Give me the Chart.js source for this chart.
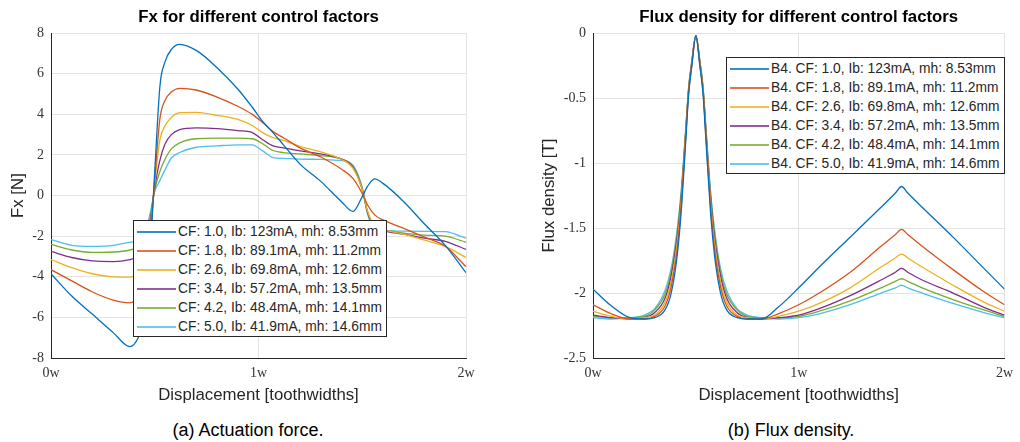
<!DOCTYPE html>
<html>
<head>
<meta charset="utf-8">
<script src="https://cdn.jsdelivr.net/npm/chart.js@4"></script>
<style>
body { margin: 0; width: 1020px; height: 442px; overflow: hidden; background: #fff; position: relative;
       font-family: "Liberation Sans", Arial, sans-serif; }
.wrap { position: absolute; top: 0; width: 510px; height: 410px; }
#wrapF { left: 0; }
#wrapB { left: 510px; }
.legend { position: absolute; background: #fff; border: 1px solid #262626; padding: 1px 4px 0 3px;
          font-size: 13.8px; color: #262626; z-index: 2; }
.row { position: relative; height: 19px; line-height: 19px; padding-left: 41px; white-space: nowrap; }
.swatch { position: absolute; left: 0; top: 9px; width: 39px; height: 2px; opacity: 0.8; }
.caption { position: absolute; top: 420px; font-size: 18px; color: #000; transform: translateX(-50%); white-space: nowrap; }
</style>
</head>
<body>
<div class="wrap" id="wrapF"><canvas id="fxChart"></canvas><div class="legend" id="legF" style="left:133px; top:220px;"></div></div>
<div class="wrap" id="wrapB"><canvas id="fluxChart"></canvas><div class="legend" id="legB" style="left:216px; top:57px;"></div></div>
<div class="caption" style="left:248px;">(a) Actuation force.</div>
<div class="caption" style="left:791px;">(b) Flux density.</div>
<script>
// displacement in toothwidths
const xForce = [0, 0.1, 0.2, 0.3, 0.38, 0.42, 0.45, 0.475, 0.5, 0.525, 0.55, 0.58, 0.62, 0.7, 0.8, 0.9,
                0.97, 1.02, 1.07, 1.12, 1.2, 1.3, 1.4, 1.455, 1.5, 1.525, 1.56, 1.6, 1.7, 1.8, 1.9, 2.0];

const fx10 = [-3.85, -4.95, -5.85, -6.75, -7.44, -7.0, -6.0, -3.3, 1.2, 5.4, 6.6, 7.2, 7.45, 7.15, 6.3, 5.25,
              4.35, 3.65, 3.1, 2.5, 1.55, 0.7, -0.3, -0.78, -0.05, 0.45, 0.82, 0.6, -0.3, -1.4, -2.45, -3.8];
const fx18 = [-3.65, -4.2, -4.75, -5.15, -5.28, -5.0, -4.4, -2.4, 0.8, 3.8, 4.7, 5.1, 5.28, 5.2, 4.85, 4.4,
              4.0, 3.6, 3.15, 2.85, 2.35, 1.9, 1.3, 0.85, 0.1, -0.45, -0.95, -1.2, -1.62, -2.05, -2.5, -3.5];
const fx26 = [-3.15, -3.55, -3.85, -4.0, -4.02, -3.8, -3.4, -1.9, 0.6, 2.75, 3.45, 3.85, 4.08, 4.1, 3.95, 3.75,
              3.45, 3.1, 2.85, 2.72, 2.42, 2.15, 1.78, 1.35, 0.3, -0.75, -1.5, -1.68, -1.9, -2.2, -2.5, -3.05];
const fx34 = [-2.75, -3.05, -3.22, -3.25, -3.15, -3.0, -2.7, -1.5, 0.4, 1.75, 2.55, 3.0, 3.25, 3.33, 3.3, 3.2,
              3.1, 2.75, 2.45, 2.35, 2.2, 2.05, 1.8, 1.4, 0.3, -0.8, -1.55, -1.72, -1.9, -2.1, -2.25, -2.65];
const fx42 = [-2.4, -2.68, -2.8, -2.78, -2.68, -2.55, -2.3, -1.25, 0.3, 1.2, 1.8, 2.3, 2.6, 2.8, 2.83, 2.83,
              2.8, 2.55, 2.22, 2.12, 2.05, 1.97, 1.8, 1.45, 0.35, -0.8, -1.58, -1.7, -1.85, -1.95, -2.0, -2.3];
const fx50 = [-2.17, -2.45, -2.5, -2.45, -2.3, -2.2, -1.9, -1.0, 0.2, 0.75, 1.28, 1.85, 2.12, 2.38, 2.45, 2.5,
              2.5, 2.2, 1.87, 1.83, 1.8, 1.78, 1.72, 1.5, 0.4, -0.9, -1.62, -1.72, -1.75, -1.76, -1.78, -2.1];

const xFlux = [0, 0.09, 0.18, 0.25, 0.3, 0.35, 0.38, 0.41, 0.43, 0.45, 0.465, 0.48, 0.5, 0.52, 0.535, 0.55, 0.57,
               0.59, 0.62, 0.65, 0.7, 0.75, 0.82, 0.9, 1.0, 1.1, 1.25, 1.4, 1.47, 1.5, 1.53, 1.6, 1.75, 1.9, 2.0];

const b10 = [-1.97, -2.1, -2.19, -2.2, -2.19, -2.13, -2.0, -1.7, -1.35, -0.85, -0.47, -0.26, -0.02, -0.26, -0.47, -0.85, -1.35,
             -1.7, -2.0, -2.13, -2.19, -2.2, -2.2, -2.11, -1.96, -1.8, -1.57, -1.34, -1.23, -1.18, -1.23, -1.34, -1.57, -1.81, -1.97];
const b18 = [-2.09, -2.16, -2.2, -2.2, -2.18, -2.1, -1.95, -1.65, -1.3, -0.82, -0.45, -0.25, -0.02, -0.25, -0.45, -0.82, -1.3,
             -1.65, -1.95, -2.1, -2.18, -2.2, -2.2, -2.16, -2.09, -2.0, -1.84, -1.64, -1.55, -1.51, -1.55, -1.64, -1.82, -1.99, -2.09];
const b26 = [-2.14, -2.18, -2.2, -2.19, -2.17, -2.07, -1.91, -1.6, -1.27, -0.8, -0.44, -0.24, -0.02, -0.24, -0.44, -0.8, -1.27,
             -1.6, -1.91, -2.07, -2.17, -2.19, -2.2, -2.18, -2.14, -2.08, -1.96, -1.8, -1.73, -1.7, -1.73, -1.8, -1.94, -2.07, -2.14];
const b34 = [-2.17, -2.19, -2.2, -2.19, -2.15, -2.04, -1.87, -1.56, -1.24, -0.78, -0.43, -0.23, -0.02, -0.23, -0.43, -0.78, -1.24,
             -1.56, -1.87, -2.04, -2.15, -2.19, -2.2, -2.19, -2.17, -2.12, -2.02, -1.9, -1.84, -1.81, -1.84, -1.9, -2.0, -2.11, -2.17];
const b42 = [-2.18, -2.19, -2.19, -2.18, -2.13, -2.01, -1.84, -1.53, -1.21, -0.76, -0.42, -0.22, -0.02, -0.22, -0.42, -0.76, -1.21,
             -1.53, -1.84, -2.01, -2.13, -2.18, -2.19, -2.19, -2.18, -2.14, -2.06, -1.96, -1.91, -1.89, -1.91, -1.96, -2.05, -2.13, -2.18];
const b50 = [-2.19, -2.2, -2.19, -2.17, -2.12, -1.98, -1.81, -1.5, -1.19, -0.75, -0.41, -0.22, -0.02, -0.22, -0.41, -0.75, -1.19,
             -1.5, -1.81, -1.98, -2.12, -2.17, -2.19, -2.2, -2.19, -2.16, -2.09, -2.0, -1.96, -1.94, -1.96, -2.0, -2.08, -2.15, -2.19];

const cfLabels = ["CF: 1.0, Ib: 123mA, mh: 8.53mm", "CF: 1.8, Ib: 89.1mA, mh: 11.2mm", "CF: 2.6, Ib: 69.8mA, mh: 12.6mm",
                  "CF: 3.4, Ib: 57.2mA, mh: 13.5mm", "CF: 4.2, Ib: 48.4mA, mh: 14.1mm", "CF: 5.0, Ib: 41.9mA, mh: 14.6mm"];
const lineColors = ["#0072BD", "#D95319", "#EDB120", "#7E2F8E", "#77AC30", "#4DBEEE"];

Chart.defaults.font.family = '"Liberation Sans", Arial, sans-serif';
Chart.defaults.animation = false;

function makeChart(canvasId, xs, series, labels, opt)
{
    const datasets = series.map((ys, i) => ({
        label: labels[i],
        data: xs.map((x, j) => ({ x: x, y: ys[j] })),
        borderColor: lineColors[i],
        borderWidth: 1.3,
        pointRadius: 0,
        fill: false,
        cubicInterpolationMode: 'monotone'
    }));

    return new Chart(document.getElementById(canvasId), {
        type: 'line',
        data: { datasets: datasets },
        options: {
            responsive: true,
            maintainAspectRatio: false,
            layout: { padding: { left: 0, right: opt.rightPad, top: 0, bottom: 0 } },
            plugins: {
                legend: { display: false },
                tooltip: { enabled: false },
                title: {
                    display: true, text: opt.title, fullSize: false, color: '#000',
                    font: { size: 16.8, weight: 'bold' }, padding: { top: 7, bottom: 6 }
                }
            },
            scales: {
                x: {
                    type: 'linear', min: 0, max: 2,
                    ticks: { stepSize: 1, callback: v => v + 'w', maxRotation: 0, padding: 7, color: '#333',
                             font: { family: '"Liberation Serif", serif', size: 14 } },
                    grid: { color: '#e3e3e3', drawTicks: false },
                    border: { color: '#262626' },
                    title: { display: true, text: 'Displacement [toothwidths]', color: '#262626',
                             font: { size: 16.8 }, padding: { top: 0, bottom: 5 } },
                    afterFit: s => { s.height = 52; }
                },
                y: {
                    min: opt.yMin, max: opt.yMax,
                    ticks: { stepSize: opt.yStep, padding: 7, color: '#333', callback: v => String(v),
                             font: { family: '"Liberation Serif", serif', size: 14 } },
                    grid: { color: '#e3e3e3', drawTicks: false },
                    border: { color: '#262626' },
                    title: { display: true, text: opt.yTitle, color: '#262626',
                             font: { size: 16.8 }, padding: { top: opt.yTitlePad, bottom: 0 } },
                    afterFit: s => { s.width = opt.yWidth; }
                }
            }
        }
    });
}

function buildLegend(chart, boxId)
{
    const box = document.getElementById(boxId);
    chart.data.datasets.forEach(ds => {
        const row = document.createElement('div');
        row.className = 'row';
        const sw = document.createElement('span');
        sw.className = 'swatch';
        sw.style.background = ds.borderColor;
        row.appendChild(sw);
        row.appendChild(document.createTextNode(ds.label));
        box.appendChild(row);
    });
}

const fxChart = makeChart('fxChart', xForce, [fx10, fx18, fx26, fx34, fx42, fx50], cfLabels, {
    title: 'Fx for different control factors', yTitle: 'Fx [N]',
    yMin: -8, yMax: 8, yStep: 2, yWidth: 51, rightPad: 44, yTitlePad: 8
});

const fluxChart = makeChart('fluxChart', xFlux, [b10, b18, b26, b34, b42, b50], cfLabels.map(l => 'B4. ' + l), {
    title: 'Flux density for different control factors', yTitle: 'Flux density [T]',
    yMin: -2.5, yMax: 0, yStep: 0.5, yWidth: 83, rightPad: 12, yTitlePad: 29
});

buildLegend(fxChart, 'legF');
buildLegend(fluxChart, 'legB');
</script>
</body>
</html>
